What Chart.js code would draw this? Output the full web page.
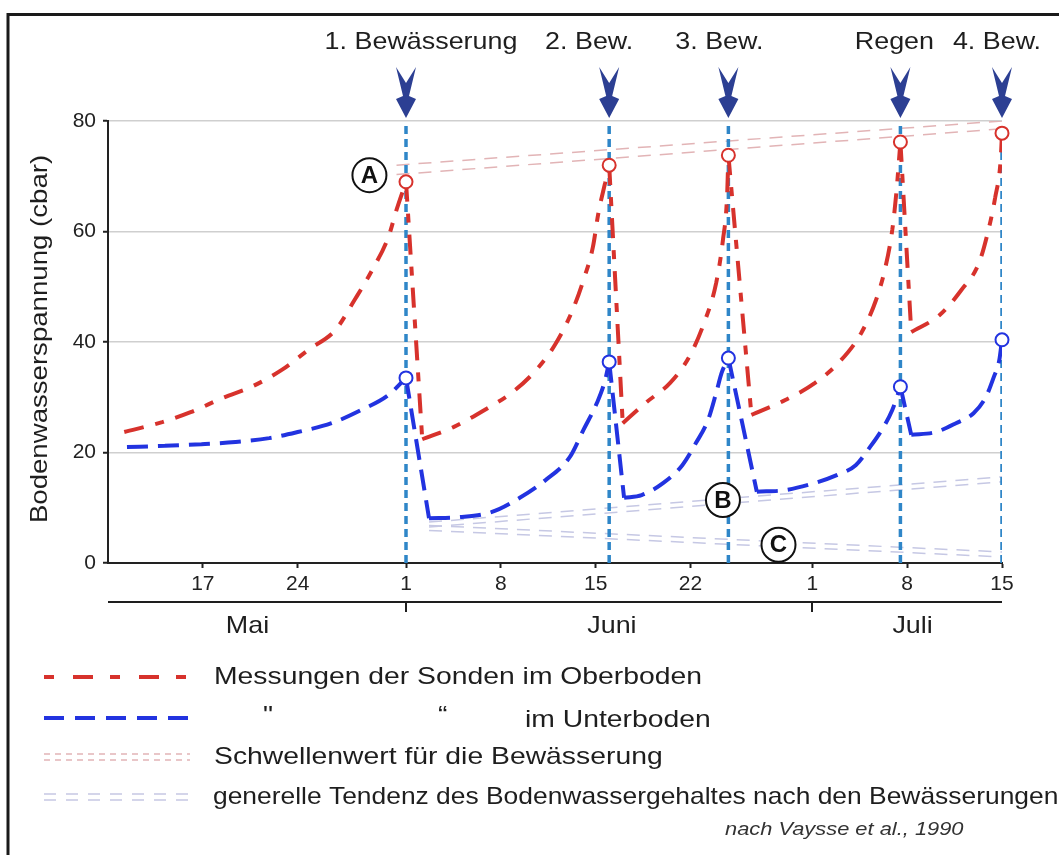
<!DOCTYPE html>
<html>
<head>
<meta charset="utf-8">
<script src="https://cdn.jsdelivr.net/npm/chart.js@4.4.1/dist/chart.umd.min.js"></script>
<style>
  html, body { margin: 0; padding: 0; background: #fff; }
  #wrap { width: 1059px; height: 855px; position: relative; }
</style>
</head>
<body>
<div id="wrap"><canvas id="chart"></canvas></div>
<script>
// ===== Daten (x = Tag ab 1. Mai, d.h. 1. Juni = 32, 1. Juli = 62) =====
const xTickDays = [17, 24, 32, 39, 46, 53, 62, 69, 76];
const xTickLabels = ["17", "24", "1", "8", "15", "22", "1", "8", "15"];
const monthNames = ["Mai", "Juni", "Juli"];
const monthCenters = [20.3, 47.2, 69.4];
const monthBreaks = [32, 62];

const irrigationDays = [32, 47, 55.8, 68.5, 76];
const irrigationLabels = ["1. Bewässerung", "2. Bew.", "3. Bew.", "Regen", "4. Bew."];

// Oberboden (rot)
const topDays = [11.2, 14, 16.1, 18.5, 20.6, 22.8, 24.8, 26.8, 28.2, 29.5, 30.7, 31.3, 32,
  33.2, 35.5, 37.8, 39.9, 41.6, 43, 44.2, 45.1, 45.8, 46.2, 46.7, 47,
  48, 49.7, 51.5, 52.9, 54, 54.9, 55.4, 55.7, 55.8,
  57.5, 60, 62.2, 64, 65.6, 66.7, 67.4, 67.9, 68.2, 68.5,
  69.3, 71.4, 73, 74.3, 75, 75.5, 75.9, 76];
const topValues = [23.7, 25.5, 27.3, 29.9, 31.9, 34.9, 38.6, 42.2, 47.6, 53, 59, 63.9, 69,
  22.4, 24.6, 27.7, 31, 34.9, 39.5, 45.2, 51.2, 57.2, 63.3, 68.8, 72,
  25.3, 29, 32.6, 37.3, 43.4, 50.7, 58.5, 66.2, 73.8,
  26.8, 29.5, 32.6, 36.4, 41.6, 47.6, 53.6, 60.3, 67, 76.2,
  41.8, 44.9, 49.4, 54.3, 60.3, 66.2, 72.9, 77.8];

// Unterboden (blau)
const subDays = [11.4, 14.2, 16.9, 19.4, 21.9, 24, 26.5, 28.7, 30.7, 32,
  33.7, 35.9, 38.3, 40.4, 42.3, 44.1, 45.1, 46.1, 46.7, 47,
  48.1, 49.4, 51, 52.4, 53.4, 54.3, 54.9, 55.3, 55.8,
  57.9, 60, 62.2, 63.8, 65.2, 66.2, 67.2, 67.9, 68.5,
  69.3, 71.1, 72.6, 73.9, 74.8, 75.4, 75.8, 76];
const subValues = [21, 21.2, 21.5, 21.9, 22.6, 23.7, 25.3, 27.7, 30.4, 33.5,
  8.1, 8.3, 9.2, 11.8, 15, 19.2, 24.1, 29, 33.1, 36.4,
  11.8, 12.3, 14.5, 17.7, 21.7, 25.9, 30.8, 34.4, 37.1,
  12.9, 13.2, 14.5, 15.9, 17.7, 20.8, 24.4, 27.7, 31.9,
  23.2, 23.7, 25.3, 27.1, 30, 33.7, 36.7, 40.4];

const topPeaks = [69, 72, 73.8, 76.2, 77.8];
const subPeaks = [33.5, 36.4, 37.1, 31.9, 40.4];

// Schwellenwert (Doppellinie)
const thresholdDays = [31.3, 76];
const thresholdUpper = [72, 80];
const thresholdLower = [70.3, 78.6];

// generelle Tendenz (zwei Doppellinien)
const trendDays = [33.7, 76];
const trendRiseA = [7.4, 15.6];
const trendRiseB = [6.5, 14.7];
const trendFallA = [6.8, 2.0];
const trendFallB = [5.9, 1.1];

const markerLabels = ["A", "B", "C"];
const markerDays = [29.3, 55.4, 59.5];
const markerValues = [70.2, 11.4, 3.3];

const legendTexts = [
  "Messungen der Sonden im Oberboden",
  "im Unterboden",
  "Schwellenwert für die Bewässerung",
  "generelle Tendenz des Bodenwassergehaltes nach den Bewässerungen"
];
const sourceText = "nach Vaysse et al., 1990";
const yTitle = "Bodenwasserspannung (cbar)";

// ===== Farben =====
const RED = "#d7322c";
const BLUE = "#2233e0";
const STEEL = "#2f86c8";
const NAVY = "#2c3f93";
const PINK = "#e2b4b6";
const LAVENDER = "#c6c8e4";
const FONT = "'Liberation Sans', Arial, Helvetica, sans-serif";

// ===== Helper =====
const pts = (xs, ys) => xs.map((x, i) => ({ x, y: ys[i] }));

function lineSet(data, color, width, dash, order, smooth) {
  return {
    data, borderColor: color, borderWidth: width, borderDash: dash,
    pointRadius: 0, fill: false, order,
    tension: smooth ? 0.4 : 0,
    cubicInterpolationMode: smooth ? "monotone" : "default",
    borderCapStyle: "butt", borderJoinStyle: "bevel"
  };
}

// Kurve in ansteigende Äste (geglättet) und Abfälle (gerade) zerlegen
function curveSets(days, values, color, dash, order) {
  const sets = [];
  let start = 0;
  for (let i = 1; i < values.length; i++) {
    if (values[i] < values[i - 1]) {
      sets.push(lineSet(pts(days.slice(start, i), values.slice(start, i)), color, 4, dash, order, true));
      sets.push(lineSet(pts(days.slice(i - 1, i + 1), values.slice(i - 1, i + 1)), color, 4, dash, order, false));
      start = i;
    }
  }
  sets.push(lineSet(pts(days.slice(start), values.slice(start)), color, 4, dash, order, true));
  return sets;
}

function drawText(ctx, text, x, y, font, align, sx, color) {
  ctx.save();
  ctx.font = font;
  ctx.textAlign = align;
  ctx.textBaseline = "middle";
  ctx.fillStyle = color || "#1e1e1e";
  ctx.translate(x, y);
  ctx.scale(sx, 1);
  ctx.fillText(text, 0, 0);
  ctx.restore();
}

function drawArrow(ctx, cx, top, tip) {
  ctx.beginPath();
  ctx.moveTo(cx - 10, top);
  ctx.lineTo(cx, top + 16);
  ctx.lineTo(cx + 10, top);
  ctx.lineTo(cx + 3, top + 29);
  ctx.lineTo(cx + 10, top + 32);
  ctx.lineTo(cx, tip);
  ctx.lineTo(cx - 10, top + 32);
  ctx.lineTo(cx - 3, top + 29);
  ctx.closePath();
  ctx.fillStyle = NAVY;
  ctx.fill();
}

function sampleLine(ctx, y, color, width, dash) {
  ctx.save();
  ctx.strokeStyle = color;
  ctx.lineWidth = width;
  ctx.setLineDash(dash);
  ctx.beginPath();
  ctx.moveTo(44, y);
  ctx.lineTo(190, y);
  ctx.stroke();
  ctx.restore();
}

// ------------------------ Zusatz-Zeichnungen ------------------------
const extras = {
  id: "extras",
  afterDraw(chart) {
    const ctx = chart.ctx;
    const xs = chart.scales.x, ys = chart.scales.y;
    const area = chart.chartArea;

    // Rahmen
    ctx.save();
    ctx.strokeStyle = "#1a1a1a";
    ctx.lineWidth = 3;
    ctx.beginPath();
    ctx.moveTo(8, 855);
    ctx.lineTo(8, 14.5);
    ctx.lineTo(1059, 14.5);
    ctx.stroke();
    ctx.restore();

    // Pfeile + Beschriftung
    const shift = [15, -20, -9, -6, -5];
    irrigationDays.forEach((d, i) => {
      const cx = xs.getPixelForValue(d);
      drawArrow(ctx, cx, 67, area.top - 3);
      drawText(ctx, irrigationLabels[i], cx + shift[i], 42, "24px " + FONT, "center", 1.12);
    });

    // Monatsachse
    ctx.save();
    ctx.strokeStyle = "#1e1e1e";
    ctx.lineWidth = 2;
    ctx.beginPath();
    ctx.moveTo(area.left, 602);
    ctx.lineTo(area.right, 602);
    monthBreaks.forEach(d => {
      const px = Math.round(xs.getPixelForValue(d));
      ctx.moveTo(px, 601);
      ctx.lineTo(px, 612);
    });
    ctx.stroke();
    ctx.restore();
    monthNames.forEach((m, i) => {
      drawText(ctx, m, xs.getPixelForValue(monthCenters[i]), 626, "24px " + FONT, "center", 1.12);
    });

    // y-Achsentitel
    ctx.save();
    ctx.translate(40, 339);
    ctx.rotate(-Math.PI / 2);
    drawText(ctx, yTitle, 0, 0, "24px " + FONT, "center", 1.15);
    ctx.restore();

    // Kreis-Markierungen A, B, C
    markerLabels.forEach((l, i) => {
      const px = xs.getPixelForValue(markerDays[i]);
      const py = ys.getPixelForValue(markerValues[i]);
      ctx.save();
      ctx.beginPath();
      ctx.arc(px, py, 17, 0, Math.PI * 2);
      ctx.fillStyle = "#fff";
      ctx.fill();
      ctx.lineWidth = 2;
      ctx.strokeStyle = "#111";
      ctx.stroke();
      ctx.restore();
      drawText(ctx, l, px, py + 1, "bold 24px " + FONT, "center", 1, "#111");
    });

    // Legende
    const rows = [677, 718, 757, 797];
    sampleLine(ctx, rows[0], RED, 4, [10, 19, 20, 17]);
    sampleLine(ctx, rows[1], BLUE, 4, [20, 11]);
    sampleLine(ctx, rows[2] - 3, PINK, 1.5, [6, 5]);
    sampleLine(ctx, rows[2] + 3, PINK, 1.5, [6, 5]);
    sampleLine(ctx, rows[3] - 3, LAVENDER, 1.5, [12, 10]);
    sampleLine(ctx, rows[3] + 3, LAVENDER, 1.5, [12, 10]);

    const lf = "24px " + FONT;
    drawText(ctx, legendTexts[0], 214, rows[0], lf, "left", 1.18);
    drawText(ctx, "\"", 263, rows[1] - 2, lf, "left", 1.18);
    drawText(ctx, "\u201C", 438, rows[1] - 2, lf, "left", 1.18);
    drawText(ctx, legendTexts[1], 525, rows[1] + 2, lf, "left", 1.18);
    drawText(ctx, legendTexts[2], 214, rows[2], lf, "left", 1.18);
    drawText(ctx, legendTexts[3], 213, rows[3], lf, "left", 1.10);

    drawText(ctx, sourceText, 725, 830, "italic 19px " + FONT, "left", 1.15, "#333");
  }
};

// ------------------------ Chart ------------------------
const datasets = [
  {
    data: pts(irrigationDays, topPeaks), showLine: false, order: 0, clip: false,
    pointRadius: 6.5, pointHoverRadius: 6.5, pointBorderWidth: 2,
    pointBackgroundColor: "#fff", pointBorderColor: RED
  },
  {
    data: pts(irrigationDays, subPeaks), showLine: false, order: 0, clip: false,
    pointRadius: 6.5, pointHoverRadius: 6.5, pointBorderWidth: 2,
    pointBackgroundColor: "#fff", pointBorderColor: BLUE
  },
  ...curveSets(topDays, topValues, RED, [20, 12, 9, 12], 1),
  ...curveSets(subDays, subValues, BLUE, [21, 10], 2),
  ...irrigationDays.map(d => lineSet(pts([d, d], [0, 80]), STEEL, 3.5, [8, 5], 3)),
  lineSet(pts(thresholdDays, thresholdUpper), PINK, 1.5, [13, 9], 4),
  lineSet(pts(thresholdDays, thresholdLower), PINK, 1.5, [13, 9], 4),
  lineSet(pts(trendDays, trendRiseA), LAVENDER, 1.5, [13, 9], 4),
  lineSet(pts(trendDays, trendRiseB), LAVENDER, 1.5, [13, 9], 4),
  lineSet(pts(trendDays, trendFallA), LAVENDER, 1.5, [13, 9], 4),
  lineSet(pts(trendDays, trendFallB), LAVENDER, 1.5, [13, 9], 4)
];

Chart.defaults.font.family = FONT;

new Chart(document.getElementById("chart"), {
  type: "line",
  data: { datasets },
  options: {
    responsive: true,
    maintainAspectRatio: false,
    animation: false,
    layout: { padding: { left: 0, top: 121, right: 57, bottom: 0 } },
    plugins: { legend: { display: false }, tooltip: { enabled: false } },
    scales: {
      x: {
        type: "linear",
        min: 10,
        max: 76,
        afterFit: s => { s.height = 292; },
        afterBuildTicks: s => { s.ticks = xTickDays.map(v => ({ value: v })); },
        ticks: {
          callback: (v, i) => xTickLabels[i],
          font: { size: 21 },
          color: "#222",
          padding: 4,
          maxRotation: 0,
          autoSkip: false
        },
        grid: { drawOnChartArea: false, tickLength: 5, tickColor: "#222", tickWidth: 2 },
        border: { color: "#222", width: 2 }
      },
      y: {
        min: 0,
        max: 80,
        afterFit: s => { s.width = 108; },
        ticks: { stepSize: 20, font: { size: 21 }, color: "#222", padding: 7 },
        grid: { color: "#cfcfcf", lineWidth: 1.5, tickLength: 5, tickColor: "#222", tickWidth: 2 },
        border: { color: "#222", width: 2 }
      }
    }
  },
  plugins: [extras]
});
</script>
</body>
</html>
